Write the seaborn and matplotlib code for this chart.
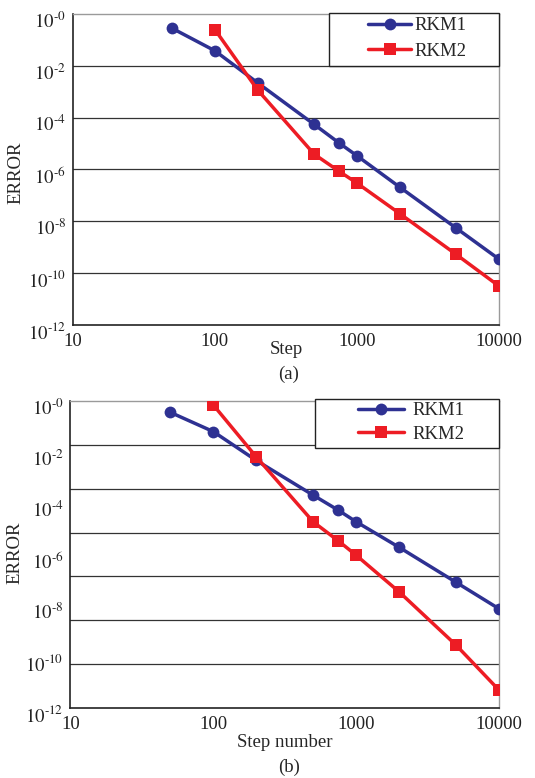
import numpy as np
import pandas as pd
import matplotlib
matplotlib.use("Agg")
import matplotlib.pyplot as plt
import matplotlib.transforms as mtransforms
from matplotlib.patches import Rectangle
import seaborn as sns

# --- data ---
steps_rkm1 = [50, 100, 200, 500, 750, 1000, 2000, 5000, 10000]
steps_rkm2 = [100, 200, 500, 750, 1000, 2000, 5000, 10000]

# panel (a)
err_a_rkm1 = [0.28, 0.038, 2.2e-3, 5.5e-5, 1.05e-5, 3.4e-6, 2.1e-7, 5.5e-9, 3.5e-10]
err_a_rkm2 = [0.25, 1.17e-3, 3.9e-6, 8.5e-7, 3.0e-7, 2.0e-8, 5.3e-10, 3.2e-11]

# panel (b)
err_b_rkm1 = [0.37, 0.065, 4.8e-3, 2.1e-4, 5.4e-5, 1.9e-5, 1.9e-6, 8.1e-8, 7.4e-9]
err_b_rkm2 = [0.72, 6.6e-3, 1.9e-5, 3.4e-6, 9.3e-7, 3.4e-8, 2.8e-10, 4.8e-12]

xticks = [10, 100, 1000, 10000]
xtick_labels = ["10", "100", "1000", "10000"]
yticks = [1e0, 1e-2, 1e-4, 1e-6, 1e-8, 1e-10, 1e-12]
# short hyphen in the exponent, like the original
ytick_labels = ["$10^{\u2010" + e + "}$" for e in ["0", "2", "4", "6", "8", "10", "12"]]

BLUE = "#2e3192"
RED = "#ed1c24"

sns.set_style("white")
plt.rcParams["font.family"] = ["Liberation Serif", "DejaVu Serif"]
plt.rcParams["mathtext.fontset"] = "stix"
FS = 13.5

fig = plt.figure(figsize=(5.35, 7.78), dpi=100)
ax_a = fig.add_axes([0.1364, 0.5823, 0.796, 0.3997])
ax_b = fig.add_axes([0.1315, 0.0904, 0.8015, 0.3938])


def draw_panel(ax, e1, e2):
    df1 = pd.DataFrame({"step": steps_rkm1, "err": e1})
    df2 = pd.DataFrame({"step": steps_rkm2, "err": e2})
    ax.set(xscale="log", yscale="log")
    sns.lineplot(data=df1, x="step", y="err", ax=ax, color=BLUE, lw=2.5,
                 marker="o", markersize=8.5, markeredgewidth=0, label="RKM1",
                 zorder=4)
    sns.lineplot(data=df2, x="step", y="err", ax=ax, color=RED, lw=2.5,
                 marker="s", markersize=8, markeredgewidth=0, label="RKM2",
                 zorder=4)
    ax.set_xlim(10, 10000)
    ax.set_ylim(1e-12, 1e0)
    ax.set_xticks(xticks)
    ax.set_xticklabels(xtick_labels, fontsize=FS)
    ax.set_yticks(yticks)
    ax.set_yticklabels(ytick_labels, fontsize=FS)
    ax.minorticks_off()
    ax.tick_params(axis="x", direction="in", length=5, width=0.8, pad=6,
                   colors="#222222")
    ax.tick_params(axis="y", length=0, pad=5, colors="#222222")
    off = mtransforms.ScaledTranslation(0, -4 / 72, fig.dpi_scale_trans)
    for lbl in ax.get_yticklabels():
        lbl.set_transform(lbl.get_transform() + off)
    for side in ["left", "bottom"]:
        ax.spines[side].set_color("#222222")
        ax.spines[side].set_linewidth(1.2)
    for side in ["top", "right"]:
        ax.spines[side].set_color("#9a9a9a")
        ax.spines[side].set_linewidth(1.0)
    ax.set_ylabel("ERROR", fontsize=FS)


draw_panel(ax_a, err_a_rkm1, err_a_rkm2)
draw_panel(ax_b, err_b_rkm1, err_b_rkm2)
ax_a.yaxis.set_label_coords(-0.113, 0.49)
ax_b.yaxis.set_label_coords(-0.11, 0.505)

# grid lines: (a) on the decade ticks, (b) seven equal bands
for y in yticks[1:-1]:
    ax_a.axhline(y, color="#333333", lw=0.9, zorder=1)
for k in range(1, 7):
    ax_b.axhline(10 ** (-12 * k / 7), color="#333333", lw=0.9, zorder=1)

# legend boxes
ax_a.add_patch(Rectangle((0.601, 0.833), 0.399, 0.171, transform=ax_a.transAxes,
                         facecolor="white", edgecolor="#222222", lw=1.0,
                         clip_on=False, zorder=5))
ax_a.legend(loc="center right", bbox_to_anchor=(0.925, 0.9216), frameon=False,
            fontsize=FS, borderpad=0, borderaxespad=0, handlelength=2.3,
            handletextpad=0.2, labelspacing=0.45).set_zorder(6)

ax_b.add_patch(Rectangle((0.571, 0.848), 0.429, 0.16, transform=ax_b.transAxes,
                         facecolor="white", edgecolor="#222222", lw=1.0,
                         clip_on=False, zorder=5))
ax_b.legend(loc="center right", bbox_to_anchor=(0.92, 0.931), frameon=False,
            fontsize=FS, borderpad=0, borderaxespad=0, handlelength=2.5,
            handletextpad=0.45, labelspacing=0.35).set_zorder(6)

ax_a.set_xlabel("Step", fontsize=FS, labelpad=-7)
ax_b.set_xlabel("Step number", fontsize=FS, labelpad=1)
fig.text(0.54, 1 - 374 / 778, "(a)", fontsize=FS, ha="center", va="center")
fig.text(0.54, 1 - 767 / 778, "(b)", fontsize=FS, ha="center", va="center")

fig.savefig("out.png", dpi=100)
plt.close(fig)
